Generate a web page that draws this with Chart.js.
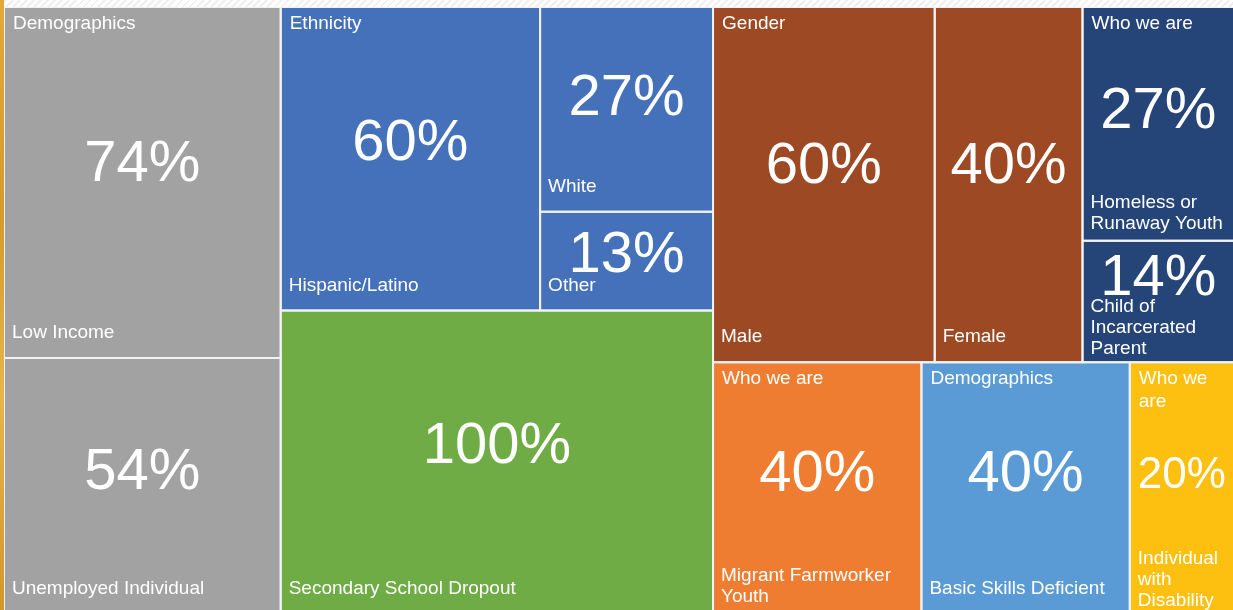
<!DOCTYPE html>
<html>
<head>
<meta charset="utf-8">
<script src="https://cdn.jsdelivr.net/npm/chart.js@4.4.1/dist/chart.umd.min.js"></script>
<style>
html, body { margin: 0; padding: 0; width: 1233px; height: 610px; overflow: hidden; }
body { background: repeating-linear-gradient(135deg, #ffffff 0 3px, #efefef 3px 5px); }
#edge { position: absolute; left: 0; top: 0; width: 4px; height: 610px;
  background: linear-gradient(180deg, #e2a93a, #d59a2c 35%, #e8b449 65%, #d3962a); }
#wrap { position: absolute; left: 4px; top: 7px; width: 1230px; height: 607px; }
</style>
</head>
<body>
<div id="edge"></div>
<div id="wrap"><canvas id="treemap"></canvas></div>
<script>
const categories = ["Low Income", "Unemployed Individual", "Hispanic/Latino", "White", "Other",
	"Secondary School Dropout", "Male", "Female", "Homeless or Runaway Youth",
	"Child of Incarcerated Parent", "Migrant Farmworker Youth", "Basic Skills Deficient",
	"Individual with Disability"];
const groups = ["Demographics", "", "Ethnicity", "", "", "", "Gender", "", "Who we are", "",
	"Who we are", "Demographics", "Who we are"];
const values = [74, 54, 60, 27, 13, 100, 60, 40, 27, 14, 40, 40, 20];
const colors = ["#a2a2a2", "#a2a2a2", "#4571bb", "#4571bb", "#4571bb", "#6fac46", "#9d4923",
	"#9d4923", "#254478", "#254478", "#ee7d31", "#5b9bd5", "#fdc010"];

// slice-and-dice tree: "h" puts children side by side, "v" stacks them
const tree = { dir: "h", kids: [
	{ dir: "v", kids: [0, 1] },
	{ dir: "v", kids: [{ dir: "h", kids: [2, { dir: "v", kids: [3, 4] }] }, 5] },
	{ dir: "v", kids: [
		{ dir: "h", kids: [6, 7, { dir: "v", kids: [8, 9] }] },
		{ dir: "h", kids: [10, 11, 12] }
	] }
] };

function total(node) {
	return typeof node === "number" ? values[node] : node.kids.reduce((s, k) => s + total(k), 0);
}

function layout(node, x0, y0, x1, y1, out) {
	if (typeof node === "number") {
		out[node] = { x0, y0, x1, y1 };
		return out;
	}
	const sum = total(node);
	let pos = node.dir === "h" ? x0 : y0;
	node.kids.forEach((k) => {
		const span = total(k) / sum * (node.dir === "h" ? x1 - x0 : y1 - y0);
		if (node.dir === "h") layout(k, pos, y0, pos + span, y1, out);
		else layout(k, x0, pos, x1, pos + span, out);
		pos += span;
	});
	return out;
}

const rects = layout(tree, 0, 0, 1, 1, []);
const FONT = '"Liberation Sans", Arial, sans-serif';

function wrap(ctx, text, maxW) {
	const lines = [];
	let cur = "";
	text.split(" ").forEach((wd) => {
		const t = cur ? cur + " " + wd : wd;
		if (cur && ctx.measureText(t).width > maxW) {
			lines.push(cur);
			cur = wd;
		} else cur = t;
	});
	if (cur) lines.push(cur);
	return lines;
}

const tileLabels = {
	id: "tileLabels",
	afterDatasetsDraw(chart) {
		const { ctx, scales: { x, y } } = chart;
		ctx.save();
		ctx.fillStyle = "#ffffff";
		ctx.textBaseline = "middle";
		categories.forEach((name, i) => {
			const r = rects[i];
			const left = x.getPixelForValue(r.x0), right = x.getPixelForValue(r.x1);
			const top = y.getPixelForValue(r.y0), bottom = y.getPixelForValue(r.y1);
			const w = right - left, h = bottom - top;

			ctx.font = "19px " + FONT;
			ctx.textAlign = "left";
			if (groups[i]) {
				wrap(ctx, groups[i], w - 16).forEach((ln, k) => ctx.fillText(ln, left + 9, top + 17 + k * 23));
			}
			const lines = wrap(ctx, name, w - 14);
			const n = lines.length;
			const pad = n === 1 ? 25 : (n === 2 ? 17 : 13);
			const nameTop = bottom - pad - (n - 1) * 21;
			lines.forEach((ln, k) => ctx.fillText(ln, left + 8, nameTop + k * 21));

			const txt = values[i] + "%";
			let size = 58;
			ctx.font = size + "px " + FONT;
			const tw = ctx.measureText(txt).width;
			if (tw > w - 16) {
				size = size * (w - 16) / tw;
				ctx.font = size + "px " + FONT;
			}
			ctx.textAlign = "center";
			const cy = Math.min(top + 0.45 * h, nameTop - 0.36 * size - 7);
			ctx.fillText(txt, left + w / 2, cy);
		});
		ctx.restore();
	}
};

new Chart(document.getElementById("treemap"), {
	type: "scatter",
	data: {
		datasets: categories.map((c, i) => {
			const r = rects[i];
			return {
				label: c,
				data: [
					{ x: r.x0, y: r.y0 }, { x: r.x1, y: r.y0 }, { x: r.x1, y: r.y1 },
					{ x: r.x0, y: r.y1 }, { x: r.x0, y: r.y0 }
				],
				showLine: true,
				fill: "shape",
				backgroundColor: colors[i],
				borderColor: "#f2f2f2",
				borderWidth: 2,
				borderJoinStyle: "miter",
				pointRadius: 0,
				tension: 0
			};
		})
	},
	options: {
		responsive: true,
		maintainAspectRatio: false,
		animation: false,
		layout: { padding: 0 },
		scales: {
			x: { type: "linear", min: 0, max: 1, display: false },
			y: { type: "linear", min: 0, max: 1, reverse: true, display: false }
		},
		plugins: {
			legend: { display: false },
			tooltip: { enabled: false },
			filler: { drawTime: "beforeDatasetsDraw" }
		}
	},
	plugins: [tileLabels]
});
</script>
</body>
</html>
